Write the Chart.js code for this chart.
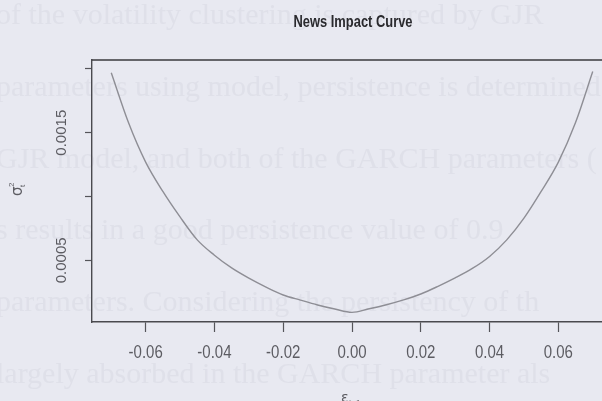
<!DOCTYPE html>
<html>
<head>
<meta charset="utf-8">
<script src="https://cdn.jsdelivr.net/npm/chart.js@4/dist/chart.umd.min.js"></script>
<style>
  html, body { margin: 0; padding: 0; background: #e8e9f1; overflow: hidden; width: 602px; height: 401px; }
  #wrap { position: absolute; left: 0; top: 0; width: 640px; height: 401px; }
</style>
</head>
<body>
<div id="wrap"><canvas id="c" width="640" height="401"></canvas></div>
<script>
// ---- data ----
const epsilon = [-0.070,-0.065,-0.060,-0.055,-0.050,-0.045,-0.040,-0.035,-0.030,-0.025,-0.020,-0.015,-0.010,-0.005,0.000,
                 0.005,0.010,0.015,0.020,0.025,0.030,0.035,0.040,0.045,0.050,0.055,0.060,0.065,0.070];
const sigma2  = [0.00197,0.00158,0.00127,0.00104,0.00084,0.00066,0.00054,0.00044,0.00036,0.00029,0.000228,0.000188,0.000150,0.000118,0.000092,
                 0.000120,0.000152,0.000190,0.000236,0.000296,0.000362,0.000436,0.000530,0.00066,0.00083,0.00104,0.00127,0.00158,0.00198];
const xTicks = [-0.06,-0.04,-0.02,0.00,0.02,0.04,0.06];
const xTickLabels = ['-0.06','-0.04','-0.02','0.00','0.02','0.04','0.06'];
const yTicks = [0.0005,0.0010,0.0015,0.0020];
const yTickLabels = ['0.0005','','0.0015',''];
const chartTitle = 'News Impact Curve';
const bgLines = [
  'of the volatility clustering is captured by GJR',
  'parameters using model, persistence is determined',
  'GJR model, and both of the GARCH parameters (',
  's results in a good persistence value of 0.9',
  'parameters. Considering the persistency of th',
  'largely absorbed in the GARCH parameter als'
];

const BG = '#e8e9f1';
const TXT = '#5c5c62';

const decor = {
  id: 'decor',
  beforeDraw(chart) {
    const ctx = chart.ctx;
    ctx.save();
    ctx.fillStyle = BG;
    ctx.fillRect(0, 0, chart.width, chart.height);
    ctx.fillStyle = '#dfe0e9';
    ctx.font = '30px "Liberation Serif"';
    ctx.textBaseline = 'middle';
    ctx.textAlign = 'left';
    const ys = [16, 88, 160, 231, 303, 375];
    bgLines.forEach((t, i) => ctx.fillText(t, -4, ys[i]));
    ctx.restore();
  },
  afterDraw(chart) {
    const ctx = chart.ctx;
    const a = chart.chartArea;
    const xs = chart.scales.x, ys = chart.scales.y;
    ctx.save();
    // top border of box
    ctx.strokeStyle = '#3a3a3e';
    ctx.lineWidth = 1.4;
    ctx.beginPath();
    ctx.moveTo(a.left, a.top);
    ctx.lineTo(a.right, a.top);
    ctx.lineTo(a.right, a.bottom);
    ctx.stroke();

    // title
    ctx.fillStyle = '#2a2a2e';
    ctx.textAlign = 'center';
    ctx.textBaseline = 'middle';
    ctx.save();
    ctx.translate(353, 22);
    ctx.scale(0.86, 1.1);
    ctx.font = 'bold 15px "Liberation Sans"';
    ctx.fillText(chartTitle, 0, 0);
    ctx.restore();

    // x tick labels
    ctx.fillStyle = TXT;
    xTicks.forEach((v, i) => {
      const px = xs.getPixelForValue(v);
      ctx.save();
      ctx.translate(px, 353);
      ctx.scale(1, 1.2);
      ctx.font = '15px "Liberation Sans"';
      ctx.fillText(xTickLabels[i], 0, 0);
      ctx.restore();
    });

    // y tick labels (rotated, parallel to axis)
    yTicks.forEach((v, i) => {
      if (!yTickLabels[i]) return;
      const py = ys.getPixelForValue(v);
      ctx.save();
      ctx.translate(62, py);
      ctx.rotate(-Math.PI / 2);
      ctx.font = '15px "Liberation Sans"';
      ctx.fillText(yTickLabels[i], 0, 0);
      ctx.restore();
    });

    // y axis title: sigma_t^2
    ctx.save();
    ctx.translate(18, 191);
    ctx.rotate(-Math.PI / 2);
    ctx.textAlign = 'left';
    ctx.font = '15px "DejaVu Sans"';
    ctx.fillText('σ', -5, 0);
    ctx.font = '8px "Liberation Sans"';
    ctx.fillText('t', 4, 5);
    ctx.fillText('2', 4, -6);
    ctx.restore();

    // x axis title: epsilon_{t-1}
    ctx.save();
    ctx.textAlign = 'left';
    ctx.textBaseline = 'alphabetic';
    ctx.font = '14px "DejaVu Sans"';
    ctx.fillText('ε', 341, 402);
    ctx.font = '8px "Liberation Sans"';
    ctx.fillText('t\u22121', 349, 405);
    ctx.restore();
    ctx.restore();
  }
};

new Chart(document.getElementById('c'), {
  type: 'line',
  data: {
    datasets: [{
      data: epsilon.map((e, i) => ({ x: e, y: sigma2[i] })),
      borderColor: '#8e8e95',
      borderWidth: 1.4,
      pointRadius: 0,
      fill: false,
      cubicInterpolationMode: 'monotone'
    }]
  },
  options: {
    responsive: false,
    devicePixelRatio: 1,
    animation: false,
    layout: { padding: { top: 60, right: 28, left: 0, bottom: 0 } },
    plugins: { legend: { display: false }, tooltip: { enabled: false }, title: { display: false } },
    scales: {
      x: {
        type: 'linear',
        min: -0.0756, max: 0.0756,
        afterBuildTicks: s => { s.ticks = xTicks.map(v => ({ value: v })); },
        afterFit: s => { s.height = 79; },
        ticks: { callback: () => '', padding: 0 },
        grid: { drawOnChartArea: false, drawTicks: true, tickLength: 10, color: '#55555a', tickWidth: 1.2 },
        border: { display: true, color: '#4a4a4f', width: 1.4 }
      },
      y: {
        type: 'linear',
        min: 0.0000164, max: 0.00207,
        afterBuildTicks: s => { s.ticks = yTicks.map(v => ({ value: v })); },
        afterFit: s => { s.width = 92; },
        ticks: { callback: () => '', padding: 0 },
        grid: { drawOnChartArea: false, drawTicks: true, tickLength: 7, color: '#55555a', tickWidth: 1.2 },
        border: { display: true, color: '#4a4a4f', width: 1.4 }
      }
    }
  },
  plugins: [decor]
});
</script>
</body>
</html>
